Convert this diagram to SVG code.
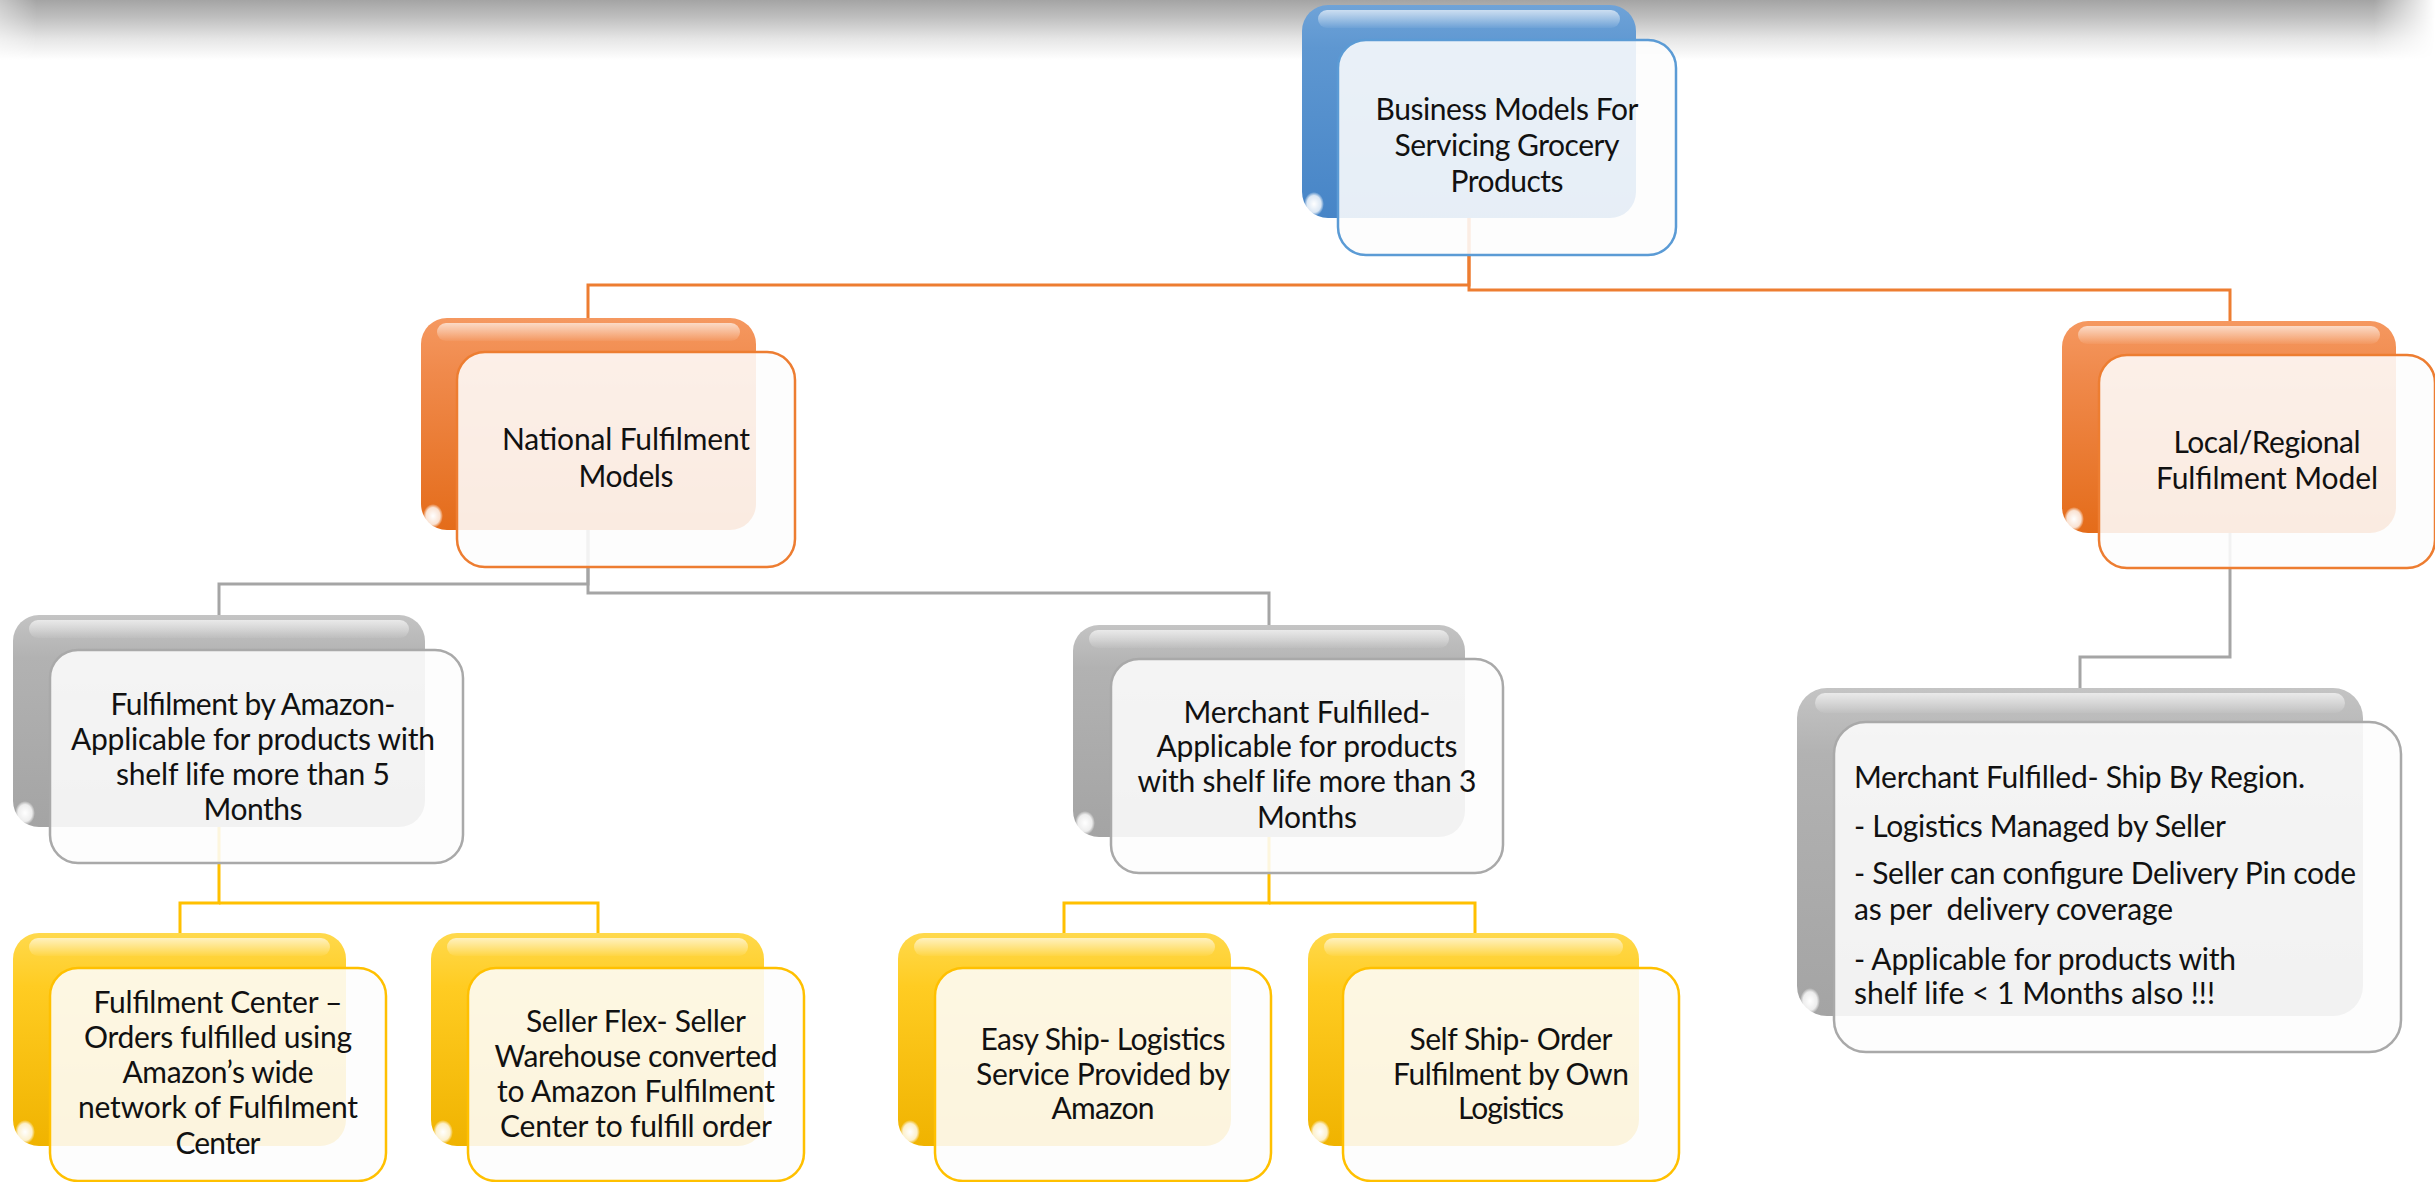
<svg xmlns="http://www.w3.org/2000/svg" width="2435" height="1182" viewBox="0 0 2435 1182">
<style>
.t{font-family:Lato,"Liberation Sans",sans-serif;font-size:30px;fill:#111;text-anchor:middle;white-space:pre}
.l{text-anchor:start}
.fr{fill:#fdfdfd;fill-opacity:0.88;stroke-width:2.5}
.hl{fill:url(#hl)}
.sp{fill:url(#spot)}
.c{fill:none;stroke-width:3}
.co{stroke:#ed7d31}
.cg{stroke:#a5a5a5}
.cy{stroke:#ffc000}
</style>
<defs>
<linearGradient id="band" x1="0" y1="0" x2="0" y2="1">
<stop offset="0" stop-color="#a4a4a4"/>
<stop offset="0.3" stop-color="#c0c0c0"/>
<stop offset="0.65" stop-color="#e6e6e6"/>
<stop offset="1" stop-color="#ffffff"/>
</linearGradient>
<linearGradient id="bandFade" x1="0" y1="0" x2="1" y2="0">
<stop offset="0" stop-color="#fff" stop-opacity="0.6"/>
<stop offset="0.015" stop-color="#fff" stop-opacity="1"/>
<stop offset="0.975" stop-color="#fff" stop-opacity="1"/>
<stop offset="1" stop-color="#fff" stop-opacity="0"/>
</linearGradient>
<mask id="bandMask"><rect x="0" y="0" width="2435" height="60" fill="url(#bandFade)"/></mask>
<linearGradient id="gBlue" x1="0" y1="0" x2="0" y2="1">
<stop offset="0" stop-color="#6fa3d8"/>
<stop offset="0.2" stop-color="#5e97d1"/>
<stop offset="1" stop-color="#4785c7"/>
</linearGradient>
<linearGradient id="gOrange" x1="0" y1="0" x2="0" y2="1">
<stop offset="0" stop-color="#f59860"/>
<stop offset="0.25" stop-color="#f08a4c"/>
<stop offset="1" stop-color="#e46c1a"/>
</linearGradient>
<linearGradient id="gGray" x1="0" y1="0" x2="0" y2="1">
<stop offset="0" stop-color="#c4c4c4"/>
<stop offset="0.2" stop-color="#b2b2b2"/>
<stop offset="1" stop-color="#a4a4a4"/>
</linearGradient>
<linearGradient id="gYellow" x1="0" y1="0" x2="0" y2="1">
<stop offset="0" stop-color="#ffd94c"/>
<stop offset="0.25" stop-color="#ffcc22"/>
<stop offset="1" stop-color="#f0b300"/>
</linearGradient>
<linearGradient id="hl" x1="0" y1="0" x2="0" y2="1">
<stop offset="0" stop-color="#fff" stop-opacity="0.65"/>
<stop offset="1" stop-color="#fff" stop-opacity="0.05"/>
</linearGradient>
<radialGradient id="spot" cx="0.5" cy="0.5" r="0.5">
<stop offset="0" stop-color="#fff" stop-opacity="1"/>
<stop offset="0.7" stop-color="#fff" stop-opacity="0.8"/>
<stop offset="1" stop-color="#fff" stop-opacity="0"/>
</radialGradient>
</defs>

<rect x="0" y="0" width="2435" height="60" fill="url(#band)" mask="url(#bandMask)"/>

<g id="connectors">
<path class="c co" d="M1469,218 V285 H588 V318"/>
<path class="c co" d="M1469,218 V290 H2230 V321"/>
<path class="c cg" d="M588,530 V584 H219 V615"/>
<path class="c cg" d="M588,530 V593 H1269 V625"/>
<path class="c cg" d="M2230,533 V657 H2080 V688"/>
<path class="c cy" d="M219,827 V903 H180 V933"/>
<path class="c cy" d="M219,903 H598 V933"/>
<path class="c cy" d="M1269,837 V903 H1064 V933"/>
<path class="c cy" d="M1269,903 H1475 V933"/>
</g>

<g id="n-root">
<rect x="1302" y="5" width="334" height="213" rx="26" fill="url(#gBlue)"/>
<rect class="hl" x="1318" y="10" width="302" height="18" rx="9"/>
<ellipse class="sp" cx="1314" cy="204" rx="10" ry="12"/>
<rect class="fr" x="1338" y="40" width="338" height="215" rx="28" stroke="#5b9bd5"/>
<text class="t" x="1507" y="120" textLength="263">Business Models For</text>
<text class="t" x="1507" y="156" textLength="225">Servicing Grocery</text>
<text class="t" x="1507" y="192" textLength="113">Products</text>
</g>

<g id="n-national">
<rect x="421" y="318" width="335" height="212" rx="26" fill="url(#gOrange)"/>
<rect class="hl" x="437" y="323" width="303" height="18" rx="9"/>
<ellipse class="sp" cx="433" cy="516" rx="10" ry="12"/>
<rect class="fr" x="457" y="352" width="338" height="215" rx="28" stroke="#ed7d31"/>
<text class="t" x="626" y="450" textLength="248">National Fulfilment</text>
<text class="t" x="626" y="487" textLength="95">Models</text>
</g>

<g id="n-local">
<rect x="2062" y="321" width="334" height="212" rx="26" fill="url(#gOrange)"/>
<rect class="hl" x="2078" y="326" width="302" height="18" rx="9"/>
<ellipse class="sp" cx="2074" cy="519" rx="10" ry="12"/>
<rect class="fr" x="2099" y="355" width="336" height="213" rx="28" stroke="#ed7d31"/>
<text class="t" x="2267" y="453" textLength="187">Local/Regional</text>
<text class="t" x="2267" y="489" textLength="222">Fulfilment Model</text>
</g>

<g id="n-fba">
<rect x="13" y="615" width="412" height="212" rx="26" fill="url(#gGray)"/>
<rect class="hl" x="29" y="620" width="380" height="18" rx="9"/>
<ellipse class="sp" cx="25" cy="813" rx="10" ry="12"/>
<rect class="fr" x="50" y="650" width="413" height="213" rx="28" stroke="#a9a9a9"/>
<text class="t" x="253" y="715" textLength="285">Fulfilment by Amazon-</text>
<text class="t" x="253" y="750" textLength="364">Applicable for products with</text>
<text class="t" x="253" y="785" textLength="274">shelf life more than 5</text>
<text class="t" x="253" y="820" textLength="99">Months</text>
</g>

<g id="n-merchant">
<rect x="1073" y="625" width="392" height="212" rx="26" fill="url(#gGray)"/>
<rect class="hl" x="1089" y="630" width="360" height="18" rx="9"/>
<ellipse class="sp" cx="1085" cy="823" rx="10" ry="12"/>
<rect class="fr" x="1111" y="659" width="392" height="214" rx="28" stroke="#a9a9a9"/>
<text class="t" x="1307" y="723" textLength="247">Merchant Fulfilled-</text>
<text class="t" x="1307" y="757" textLength="301">Applicable for products</text>
<text class="t" x="1307" y="792" textLength="339">with shelf life more than 3</text>
<text class="t" x="1307" y="828" textLength="100">Months</text>
</g>

<g id="n-shipbyregion">
<rect x="1797" y="688" width="566" height="328" rx="30" fill="url(#gGray)"/>
<rect class="hl" x="1815" y="693" width="530" height="20" rx="10"/>
<ellipse class="sp" cx="1810" cy="1001" rx="10" ry="13"/>
<rect class="fr" x="1834" y="722" width="567" height="330" rx="32" stroke="#a9a9a9"/>
<text class="t l" x="1854" y="788" textLength="451">Merchant Fulfilled- Ship By Region.</text>
<text class="t l" x="1854" y="837" textLength="372">- Logistics Managed by Seller</text>
<text class="t l" x="1854" y="884" textLength="502">- Seller can configure Delivery Pin code</text>
<text class="t l" x="1854" y="920" textLength="319">as per  delivery coverage</text>
<text class="t l" x="1854" y="970" textLength="382">- Applicable for products with</text>
<text class="t l" x="1854" y="1004" textLength="361">shelf life &lt; 1 Months also !!!</text>
</g>

<g id="n-fc">
<rect x="13" y="933" width="333" height="213" rx="26" fill="url(#gYellow)"/>
<rect class="hl" x="29" y="938" width="301" height="18" rx="9"/>
<ellipse class="sp" cx="25" cy="1132" rx="10" ry="12"/>
<rect class="fr" x="50" y="968" width="336" height="213" rx="28" stroke="#ffc000"/>
<text class="t" x="218" y="1013" textLength="249">Fulfilment Center –</text>
<text class="t" x="218" y="1048" textLength="268">Orders fulfilled using</text>
<text class="t" x="218" y="1083" textLength="191">Amazon’s wide</text>
<text class="t" x="218" y="1118" textLength="280">network of Fulfilment</text>
<text class="t" x="218" y="1154" textLength="85">Center</text>
</g>

<g id="n-sellerflex">
<rect x="431" y="933" width="333" height="213" rx="26" fill="url(#gYellow)"/>
<rect class="hl" x="447" y="938" width="301" height="18" rx="9"/>
<ellipse class="sp" cx="443" cy="1132" rx="10" ry="12"/>
<rect class="fr" x="468" y="968" width="336" height="213" rx="28" stroke="#ffc000"/>
<text class="t" x="636" y="1032" textLength="220">Seller Flex- Seller</text>
<text class="t" x="636" y="1067" textLength="283">Warehouse converted</text>
<text class="t" x="636" y="1102" textLength="278">to Amazon Fulfilment</text>
<text class="t" x="636" y="1137" textLength="272">Center to fulfill order</text>
</g>

<g id="n-easyship">
<rect x="898" y="933" width="333" height="213" rx="26" fill="url(#gYellow)"/>
<rect class="hl" x="914" y="938" width="301" height="18" rx="9"/>
<ellipse class="sp" cx="910" cy="1132" rx="10" ry="12"/>
<rect class="fr" x="935" y="968" width="336" height="213" rx="28" stroke="#ffc000"/>
<text class="t" x="1103" y="1050" textLength="245">Easy Ship- Logistics</text>
<text class="t" x="1103" y="1085" textLength="254">Service Provided by</text>
<text class="t" x="1103" y="1119" textLength="103">Amazon</text>
</g>

<g id="n-selfship">
<rect x="1308" y="933" width="331" height="213" rx="26" fill="url(#gYellow)"/>
<rect class="hl" x="1324" y="938" width="299" height="18" rx="9"/>
<ellipse class="sp" cx="1320" cy="1132" rx="10" ry="12"/>
<rect class="fr" x="1343" y="968" width="336" height="213" rx="28" stroke="#ffc000"/>
<text class="t" x="1511" y="1050" textLength="203">Self Ship- Order</text>
<text class="t" x="1511" y="1085" textLength="236">Fulfilment by Own</text>
<text class="t" x="1511" y="1119" textLength="106">Logistics</text>
</g>
</svg>
